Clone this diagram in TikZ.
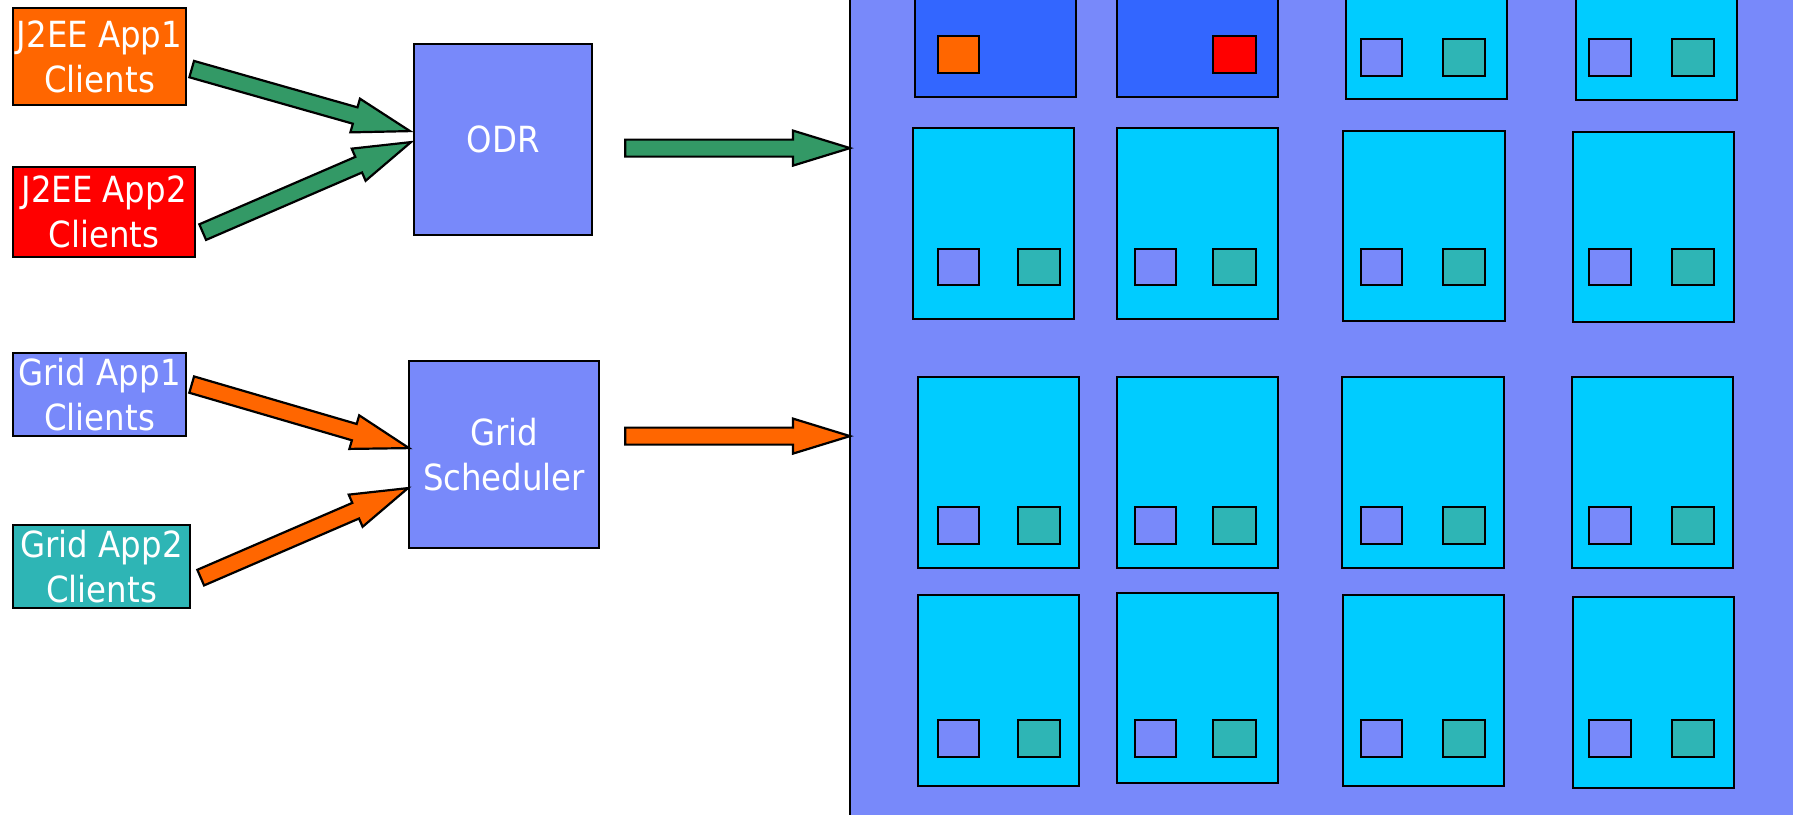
\documentclass[tikz,border=0pt]{standalone}
\usepackage{fontspec}
\newfontfamily\labelfont{DejaVu Sans Condensed}
\usetikzlibrary{calc}

\definecolor{appOrange}{RGB}{255,102,0}
\definecolor{appRed}{RGB}{255,0,0}
\definecolor{lavender}{RGB}{120,137,250}
\definecolor{gridTeal}{RGB}{46,181,181}
\definecolor{flowGreen}{RGB}{51,153,102}
\definecolor{nodeBlue}{RGB}{51,102,255}
\definecolor{nodeCyan}{RGB}{0,204,255}

\tikzset{
  box/.style={draw=black, line width=2.2pt, inner sep=0pt, anchor=north west,
    text=white, align=center, font=\labelfont\fontsize{36}{45}\selectfont},
  blockarrow/.style={draw=black, line width=2.2pt, line join=miter},
  cellbox/.style={draw=black, line width=2.2pt},
}

% thick block arrow: #1 fill colour, #2 tail, #3 tip
\newcommand\flowarrow[3]{%
  \coordinate (fa-base) at ($(#3)!57pt!(#2)$);
  \draw[blockarrow, fill=#1]
    ($(#2)!8.5pt!90:(#3)$) -- ($(fa-base)!8.5pt!90:(#3)$)
    -- ($(fa-base)!17.5pt!90:(#3)$) -- (#3)
    -- ($(fa-base)!17.5pt!-90:(#3)$) -- ($(fa-base)!8.5pt!-90:(#3)$)
    -- ($(#2)!8.5pt!-90:(#3)$) -- cycle;
}

% a server frame, and a slot inside it: x1 y1 x2 y2 fill
\newcommand\server[5]{\draw[cellbox, fill=#5] (#1,#2) rectangle (#3,#4);}
\newcommand\slot[5]{\draw[cellbox, fill=#5] (#1,#2) rectangle (#3,#4);}

\begin{document}
\begin{tikzpicture}[x=1pt, y=-1pt]
\useasboundingbox (0,0) rectangle (1793,814);
\clip (0,0) rectangle (1793,814);

% cluster panel
\node[fill=lavender, inner sep=0pt, anchor=north west,
      minimum width=960pt, minimum height=840pt] (cluster) at (850,-10) {};
\draw[line width=2.2pt] (cluster.north west) -- (cluster.south west);

% client groups and routers
\node[box, fill=appOrange, minimum width=173pt, minimum height=97pt] (j2ee1) at (12,7) {J2EE App1\\Clients};
\node[box, fill=appRed, minimum width=182pt, minimum height=90pt] (j2ee2) at (12,166) {J2EE App2\\Clients};
\node[box, fill=lavender, minimum width=178pt, minimum height=191pt] (odr) at (413,43) {ODR};
\node[box, fill=lavender, minimum width=173pt, minimum height=83pt] (grid1) at (12,352) {Grid App1\\Clients};
\node[box, fill=gridTeal, minimum width=177pt, minimum height=83pt] (grid2) at (12,524) {Grid App2\\Clients};
\node[box, fill=lavender, minimum width=190pt, minimum height=187pt] (gsched) at (408,360) {Grid\\Scheduler};

% arrow ends
\coordinate (j1-out) at ($(j2ee1.east)+(4.5,12.5)$);
\coordinate (j2-out) at ($(j2ee2.east)+(6.5,20)$);
\coordinate (odr-in1) at ($(odr.west)+(-3,-8.5)$);
\coordinate (odr-in2) at ($(odr.west)+(-2,2.5)$);
\coordinate (g1-out) at ($(grid1.east)+(4.5,-10)$);
\coordinate (g2-out) at ($(grid2.east)+(9.5,11)$);
\coordinate (gs-in1) at ($(gsched.west)+(1,-6.5)$);
\coordinate (gs-in2) at ($(gsched.west)+(0,33.5)$);
\coordinate (odr-out) at ($(odr.east)+(32,8.5)$);
\coordinate (gs-out) at ($(gsched.east)+(25,-18.5)$);
\coordinate (cluster-in1) at (cluster.west |- odr-out);
\coordinate (cluster-in2) at (cluster.west |- gs-out);

\flowarrow{flowGreen}{j1-out}{odr-in1}
\flowarrow{flowGreen}{j2-out}{odr-in2}
\flowarrow{appOrange}{g1-out}{gs-in1}
\flowarrow{appOrange}{g2-out}{gs-in2}
\flowarrow{flowGreen}{odr-out}{cluster-in1}
\flowarrow{appOrange}{gs-out}{cluster-in2}

% row 1
\server{915}{-5}{1076}{97}{nodeBlue}
\server{1117}{-5}{1278}{97}{nodeBlue}
\server{1346}{-5}{1507}{99}{nodeCyan}
\server{1576}{-5}{1737}{100}{nodeCyan}
\slot{938}{36}{979}{73}{appOrange}
\slot{1213}{36}{1256}{73}{appRed}
\slot{1361}{39}{1402}{76}{lavender}
\slot{1443}{39}{1485}{76}{gridTeal}
\slot{1589}{39}{1631}{76}{lavender}
\slot{1672}{39}{1714}{76}{gridTeal}

% row 2
\server{913}{128}{1074}{319}{nodeCyan}
\server{1117}{128}{1278}{319}{nodeCyan}
\server{1343}{131}{1505}{321}{nodeCyan}
\server{1573}{132}{1734}{322}{nodeCyan}
% row 3
\server{918}{377}{1079}{568}{nodeCyan}
\server{1117}{377}{1278}{568}{nodeCyan}
\server{1342}{377}{1504}{568}{nodeCyan}
\server{1572}{377}{1733}{568}{nodeCyan}
% row 4
\server{918}{595}{1079}{786}{nodeCyan}
\server{1117}{593}{1278}{783}{nodeCyan}
\server{1343}{595}{1504}{786}{nodeCyan}
\server{1573}{597}{1734}{788}{nodeCyan}

% slots of rows 2 to 4
\foreach \ya/\yb in {249/285, 507/544, 720/757}{
  \slot{938}{\ya}{979}{\yb}{lavender}
  \slot{1018}{\ya}{1060}{\yb}{gridTeal}
  \slot{1135}{\ya}{1176}{\yb}{lavender}
  \slot{1213}{\ya}{1256}{\yb}{gridTeal}
  \slot{1361}{\ya}{1402}{\yb}{lavender}
  \slot{1443}{\ya}{1485}{\yb}{gridTeal}
  \slot{1589}{\ya}{1631}{\yb}{lavender}
  \slot{1672}{\ya}{1714}{\yb}{gridTeal}
}
\end{tikzpicture}
\end{document}
